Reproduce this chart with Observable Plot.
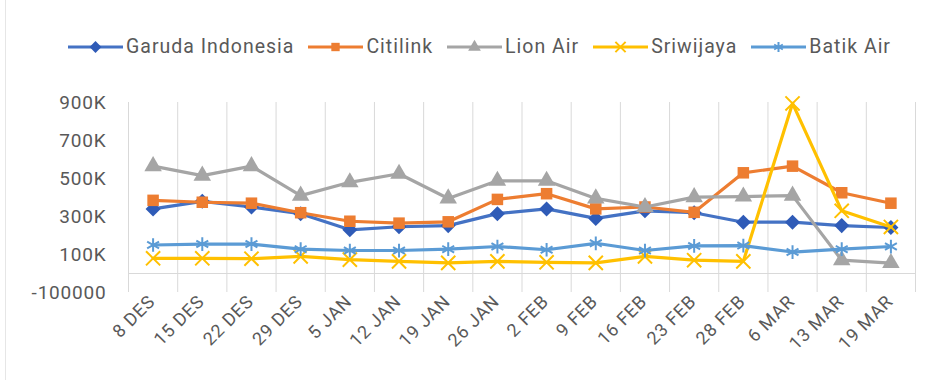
<!DOCTYPE html>
<html>
<head>
<meta charset="utf-8">
<script src="https://cdn.jsdelivr.net/npm/d3@7"></script>
<script src="https://cdn.jsdelivr.net/npm/@observablehq/plot@0.6"></script>
<style>
  html, body { margin: 0; padding: 0; background: #fff; }
  #wrap { width: 931px; height: 380px; position: relative; overflow: hidden; }
  #legend { height: 70px; display: flex; align-items: flex-end; padding-left: 68px; box-sizing: border-box; padding-bottom: 12px;
    font-family: "Roboto", sans-serif; font-size: 19.5px; letter-spacing: 1px; color: #595959; }
  .item { display: flex; align-items: center; margin-right: 14px; }
  .item svg { margin-right: 3px; }
  #frame { position: absolute; left: 5px; top: 0; width: 1px; height: 380px; background: #e6e6e6; }
</style>
</head>
<body>
<div id="wrap">
  <div id="frame"></div>
  <div id="legend"></div>
  <div id="chart"></div>
</div>
<script>
const categories = ["8 DES","15 DES","22 DES","29 DES","5 JAN","12 JAN","19 JAN","26 JAN","2 FEB","9 FEB","16 FEB","23 FEB","28 FEB","6 MAR","13 MAR","19 MAR"];
const seriesNames = ["Garuda Indonesia","Citilink","Lion Air","Sriwijaya","Batik Air"];
const garuda    = [340000,380000,350000,315000,230000,246000,252000,315000,340000,290000,330000,320000,270000,270000,252000,242000];
const citilink  = [385000,375000,370000,320000,275000,265000,272000,390000,420000,340000,350000,322000,530000,565000,425000,370000];
const lionAir   = [565000,515000,565000,410000,480000,525000,395000,488000,488000,395000,350000,402000,405000,410000,70000,55000];
const sriwijaya = [80000,80000,78000,90000,73000,64000,56000,64000,59000,56000,90000,70000,64000,895000,330000,245000];
const batikAir  = [150000,155000,155000,128000,121000,121000,128000,142000,125000,159000,121000,145000,147000,113000,128000,142000];
const yTicks = [-100000,100000,300000,500000,700000,900000];
const yTickLabels = ["-100000","100K","300K","500K","700K","900K"];

const colors = ["#4472C4","#ED7D31","#A5A5A5","#FFC000","#5B9BD5"];
const markerColors = ["#2F5BB7","#ED7D31","#A5A5A5","#FFC000","#5B9BD5"];
const symbols = ["diamond","square","triangle","times","asterisk"];
const allValues = [garuda, citilink, lionAir, sriwijaya, batikAir];

// square-ish diamond like Excel's marker
const squareDiamond = {
  draw(context, size) {
    const r = Math.sqrt(size / 2);
    context.moveTo(0, -r); context.lineTo(r, 0); context.lineTo(0, r); context.lineTo(-r, 0); context.closePath();
  }
};
const symbolMap = {diamond: squareDiamond, square: d3.symbolSquare, triangle: d3.symbolTriangle, times: d3.symbolTimes, asterisk: d3.symbolAsterisk};

const rows = [];
seriesNames.forEach((s, k) => allValues[k].forEach((v, i) => rows.push({series: s, i, value: v, k})));

const gray = "#595959";
const gridColor = "#d9d9d9";
const bounds = d3.range(categories.length + 1).map(i => i - 0.5);

const marks = [
  Plot.ruleX(bounds, {x: d => d, y1: -100000, y2: 900000, stroke: gridColor, strokeWidth: 1}),
  Plot.ruleY([0], {stroke: gridColor, strokeWidth: 1}),
  Plot.axisY({ticks: yTicks, tickFormat: v => yTickLabels[yTicks.indexOf(v)], tickSize: 0, tickPadding: 22, label: null,
    fontSize: 19, fill: gray}),
  Plot.axisX({ticks: d3.range(categories.length), tickFormat: i => categories[i], tickSize: 0, tickRotate: -45, label: null,
    tickPadding: 4, fontSize: 18, fill: gray, dx: -1, dy: 2})
];
seriesNames.forEach((s, k) => {
  const data = rows.filter(r => r.k === k);
  marks.push(Plot.line(data, {x: "i", y: "value", stroke: colors[k], strokeWidth: 3.2, curve: "linear"}));
  const sym = symbols[k];
  const filled = sym === "diamond" || sym === "square" || sym === "triangle";
  marks.push(Plot.dot(data, {x: "i", y: "value", symbol: () => symbolMap[sym], r: sym === "diamond" ? 6 : 6.5,
    fill: filled ? markerColors[k] : "none", stroke: markerColors[k], strokeWidth: filled ? 0 : 2}));
});

const chart = Plot.plot({
  width: 931, height: 310,
  marginLeft: 128, marginRight: 16, marginTop: 32, marginBottom: 88,
  x: {type: "linear", domain: [-0.5, categories.length - 0.5], axis: null},
  y: {domain: [-100000, 900000], axis: null},
  symbol: {type: "identity"},
  style: {background: "white", overflow: "visible", fontFamily: "Roboto, sans-serif", letterSpacing: "0.8px"},
  marks
});
document.getElementById("chart").appendChild(chart);

// legend
const legend = document.getElementById("legend");
seriesNames.forEach((s, k) => {
  const item = document.createElement("div");
  item.className = "item";
  const sw = d3.create("svg").attr("width", 55).attr("height", 20);
  sw.append("line").attr("x1", 0).attr("x2", 55).attr("y1", 10).attr("y2", 10)
    .attr("stroke", colors[k]).attr("stroke-width", 3);
  const sym = d3.symbol().type(symbolMap[symbols[k]]).size(70);
  const filled = k < 3;
  sw.append("path").attr("d", sym()).attr("transform", "translate(27.5,10)")
    .attr("fill", filled ? markerColors[k] : "none").attr("stroke", filled ? "none" : markerColors[k]).attr("stroke-width", 2);
  item.appendChild(sw.node());
  const t = document.createElement("span");
  t.textContent = s;
  item.appendChild(t);
  legend.appendChild(item);
});
</script>
</body>
</html>
